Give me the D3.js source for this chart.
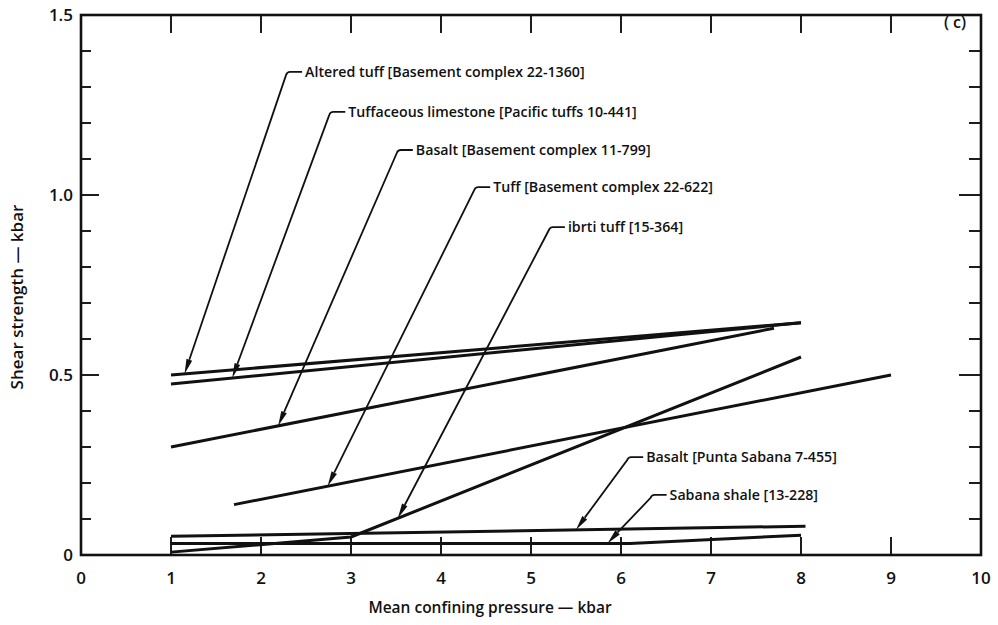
<!DOCTYPE html>
<html>
<head>
<meta charset="utf-8">
<script src="https://cdn.jsdelivr.net/npm/d3@7"></script>
<style>
  html, body { margin: 0; padding: 0; background: #fff; }
  svg { display: block; }
  text { font-family: "Open Sans", "Noto Sans", sans-serif; fill: #111; }
</style>
</head>
<body>
<svg id="chart" width="998" height="625"></svg>
<script>
// Shear strength vs. mean confining pressure, one straight-line fit per rock sample
const rockNames = [
  "Altered tuff [Basement complex 22-1360]",
  "Tuffaceous limestone [Pacific tuffs 10-441]",
  "Basalt [Basement complex 11-799]",
  "Tuff [Basement complex 22-622]",
  "ibrti tuff [15-364]",
  "Basalt [Punta Sabana 7-455]",
  "Sabana shale [13-228]"
];
// [pressure kbar, shear strength kbar]
const alteredTuff      = [[1, 0.50], [8, 0.645]];
const tuffLimestone    = [[1, 0.475], [8, 0.645]];
const basaltBasement   = [[1, 0.30], [7.7, 0.63]];
const tuffBasement     = [[1.7, 0.14], [9, 0.50]];
const ibrtiTuff        = [[1, 0.008], [3, 0.05], [8, 0.55]];
const basaltPunta      = [[1, 0.052], [8.05, 0.08]];
const sabanaShale      = [[1, 0.032], [6.1, 0.032], [8, 0.055]];
const seriesValues = [alteredTuff, tuffLimestone, basaltBasement, tuffBasement, ibrtiTuff, basaltPunta, sabanaShale];

// pressure at which each label's arrow touches its line
const arrowAtX = [1.15, 1.68, 2.19, 2.74, 3.52, 5.5, 5.85];

const xTickLabels = ["0","1","2","3","4","5","6","7","8","9","10"];
const yTickValues = [0, 0.5, 1.0, 1.5];
const yTickLabels = ["0", "0.5", "1.0", "1.5"];

// leader elbow positions, in data units
const leaderElbows = [
  [2.29, 1.342], [2.77, 1.231], [3.52, 1.125], [4.38, 1.022],
  [5.21, 0.911], [6.08, 0.272], [6.34, 0.167]
];

const svg = d3.select("#chart");
const plotL = 81, plotR = 981, plotT = 15, plotB = 555;
const x = d3.scaleLinear().domain([0, 10]).range([plotL, plotR]);
const y = d3.scaleLinear().domain([0, 1.5]).range([plotB, plotT]);

// frame
svg.append("rect").attr("x", plotL).attr("y", plotT)
  .attr("width", plotR - plotL).attr("height", plotB - plotT)
  .attr("fill", "none").attr("stroke", "#111").attr("stroke-width", 2.6);

// inward ticks on all four sides
const tk = svg.append("g").attr("stroke", "#111").attr("stroke-width", 1.9);
d3.range(1, 10).forEach(v => {
  tk.append("line").attr("x1", x(v)).attr("x2", x(v)).attr("y1", plotB).attr("y2", plotB - 18);
  tk.append("line").attr("x1", x(v)).attr("x2", x(v)).attr("y1", plotT).attr("y2", plotT + 18);
});
d3.range(1, 15).forEach(i => {
  const v = i / 10;
  const major = i % 5 === 0;
  tk.append("line").attr("x1", plotL).attr("x2", plotL + (major ? 18 : 10)).attr("y1", y(v)).attr("y2", y(v));
  tk.append("line").attr("x1", plotR).attr("x2", plotR - (major ? 22 : 12)).attr("y1", y(v)).attr("y2", y(v));
});

// tick labels
svg.append("g").selectAll("text").data(xTickLabels).join("text")
  .attr("x", (d, i) => x(i)).attr("y", 584)
  .attr("text-anchor", "middle").attr("font-size", 17).attr("font-weight", 600)
  .text(d => d);
svg.append("g").selectAll("text").data(yTickValues).join("text")
  .attr("x", 73).attr("y", d => y(d) + 6)
  .attr("text-anchor", "end").attr("font-size", 17).attr("font-weight", 600)
  .text((d, i) => yTickLabels[i]);

// axis titles
svg.append("text").attr("x", 490).attr("y", 613).attr("text-anchor", "middle")
  .attr("font-size", 15.5).attr("font-weight", 600).text("Mean confining pressure \u2014 kbar");
svg.append("text").attr("transform", "translate(23,297) rotate(-90)").attr("text-anchor", "middle")
  .attr("font-size", 17).attr("font-weight", 600).text("Shear strength \u2014 kbar");

// panel letter
svg.append("text").attr("x", 955).attr("y", 28).attr("text-anchor", "middle")
  .attr("font-size", 16).attr("font-weight", 600).text("( c)");

// fitted lines
const line = d3.line().x(d => x(d[0])).y(d => y(d[1]));
svg.append("g").selectAll("path").data(seriesValues).join("path")
  .attr("d", line).attr("fill", "none").attr("stroke", "#111")
  .attr("stroke-width", 3).attr("stroke-linejoin", "round");

// value of a series at a given pressure
function valueAt(series, px) {
  for (let i = 0; i < series.length - 1; i++) {
    const a = series[i], b = series[i + 1];
    if (px >= a[0] && px <= b[0]) return a[1] + (b[1] - a[1]) * (px - a[0]) / (b[0] - a[0]);
  }
  return series[series.length - 1][1];
}

// labels with leader arrows
const ann = svg.append("g");
rockNames.forEach((name, i) => {
  const tx = x(arrowAtX[i]), ty = y(valueAt(seriesValues[i], arrowAtX[i]));
  const ex = x(leaderElbows[i][0]), ey = y(leaderElbows[i][1]);
  const ang = Math.atan2(ty - ey, tx - ex);
  const len = 15, half = 3;
  const bx = tx - len * Math.cos(ang), by = ty - len * Math.sin(ang);
  ann.append("path")
    .attr("d", `M${ex + 15},${ey} L${ex + 3},${ey} Q${ex},${ey} ${ex - 1},${ey + 3} L${bx},${by}`)
    .attr("fill", "none").attr("stroke", "#111").attr("stroke-width", 1.8);
  ann.append("path")
    .attr("d", `M${tx},${ty} L${bx - half * Math.sin(ang)},${by + half * Math.cos(ang)} L${bx + half * Math.sin(ang)},${by - half * Math.cos(ang)} Z`)
    .attr("fill", "#111");
  ann.append("text").attr("x", ex + 18).attr("y", ey + 5)
    .attr("font-size", 14.2).attr("font-weight", 600).text(name);
});
</script>
</body>
</html>
